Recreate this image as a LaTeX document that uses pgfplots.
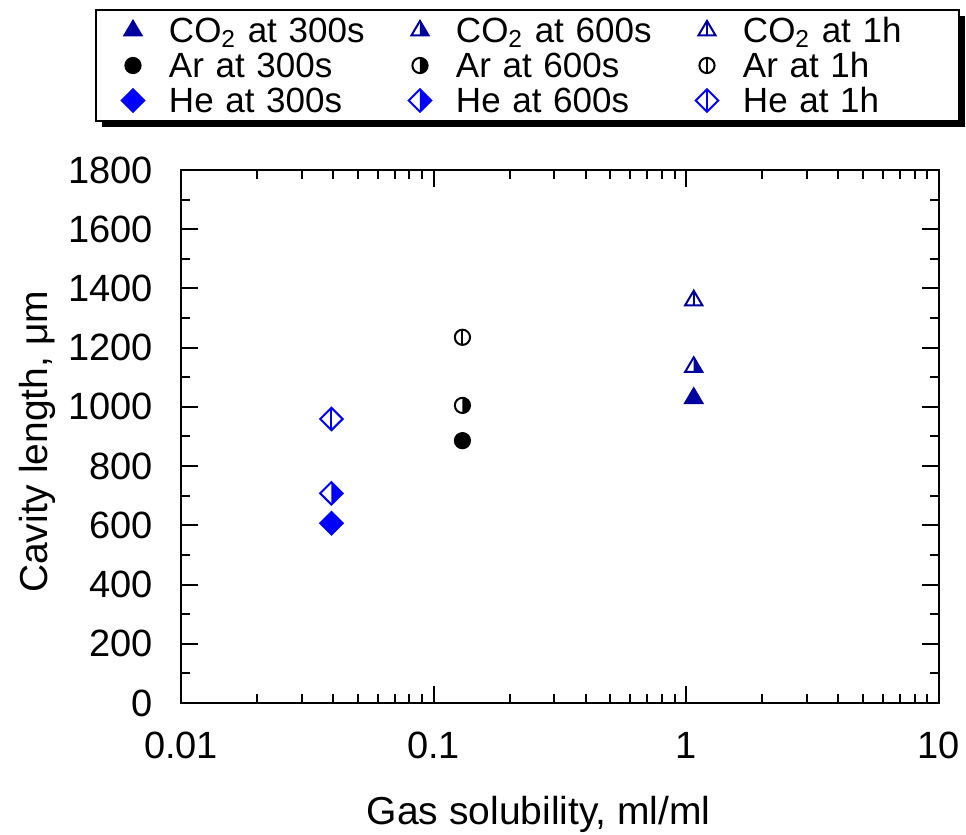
\documentclass[border=0pt]{standalone}
\usepackage{fontspec}
\setmainfont{Liberation Sans}
\usepackage{pgfplots}
\pgfplotsset{compat=1.18}
\usetikzlibrary{shadows}

\definecolor{cotwo}{RGB}{0,0,160}
\definecolor{heblue}{RGB}{0,0,255}

% --- marks: full, right-half filled, and open with a vertical split ---
\newcommand\tripath{\pgfpathmoveto{\pgfqpoint{0pt}{4.8pt}}\pgfpathlineto{\pgfqpoint{-4.3pt}{-2.5pt}}\pgfpathlineto{\pgfqpoint{4.3pt}{-2.5pt}}\pgfpathclose}
\pgfdeclareplotmark{trifull}{\tripath\pgfusepathqfillstroke}
\pgfdeclareplotmark{trihalf}{%
  \pgfpathmoveto{\pgfqpoint{0pt}{4.8pt}}\pgfpathlineto{\pgfqpoint{4.3pt}{-2.5pt}}\pgfpathlineto{\pgfqpoint{0pt}{-2.5pt}}\pgfpathclose\pgfusepathqfill
  \tripath\pgfusepathqstroke}
\pgfdeclareplotmark{trisplit}{%
  \tripath\pgfusepathqstroke
  \pgfpathmoveto{\pgfqpoint{0pt}{4.8pt}}\pgfpathlineto{\pgfqpoint{0pt}{-2.5pt}}\pgfusepathqstroke}

\newcommand\cirpath{\pgfpathcircle{\pgfpointorigin}{3.8pt}}
\pgfdeclareplotmark{cirfull}{\cirpath\pgfusepathqfillstroke}
\pgfdeclareplotmark{cirhalf}{%
  \pgfpathmoveto{\pgfqpoint{0pt}{3.8pt}}\pgfpatharc{90}{-90}{3.8pt}\pgfpathclose\pgfusepathqfill
  \cirpath\pgfusepathqstroke}
\pgfdeclareplotmark{cirsplit}{%
  \cirpath\pgfusepathqstroke
  \pgfpathmoveto{\pgfqpoint{0pt}{3.8pt}}\pgfpathlineto{\pgfqpoint{0pt}{-3.8pt}}\pgfusepathqstroke}

\newcommand\diapath{\pgfpathmoveto{\pgfqpoint{0pt}{5.6pt}}\pgfpathlineto{\pgfqpoint{5.6pt}{0pt}}\pgfpathlineto{\pgfqpoint{0pt}{-5.6pt}}\pgfpathlineto{\pgfqpoint{-5.6pt}{0pt}}\pgfpathclose}
\pgfdeclareplotmark{diafull}{\diapath\pgfusepathqfillstroke}
\pgfdeclareplotmark{diahalf}{%
  \pgfpathmoveto{\pgfqpoint{0pt}{5.6pt}}\pgfpathlineto{\pgfqpoint{5.6pt}{0pt}}\pgfpathlineto{\pgfqpoint{0pt}{-5.6pt}}\pgfpathclose\pgfusepathqfill
  \diapath\pgfusepathqstroke}
\pgfdeclareplotmark{diasplit}{%
  \diapath\pgfusepathqstroke
  \pgfpathmoveto{\pgfqpoint{0pt}{5.6pt}}\pgfpathlineto{\pgfqpoint{0pt}{-5.6pt}}\pgfusepathqstroke}

\begin{document}
\begin{tikzpicture}
\path[use as bounding box] (-90.5pt,-66pt) rectangle (392.5pt,351.5pt);
\begin{axis}[
  at={(0pt,0pt)}, anchor=south west,
  scale only axis, width=379pt, height=266.5pt,
  xmode=log, xmin=0.01, xmax=10,
  ymin=0, ymax=1800,
  xtick={0.01,0.1,1,10}, xticklabels={0.01,0.1,1,10},
  ytick={0,200,...,1800}, minor y tick num=1,
  tick align=inside,
  major tick length=8.5pt, minor tick length=4.5pt,
  every tick/.style={black, line width=1pt},
  axis line style={line width=1pt},
  /pgf/number format/assume math mode=true,
  /pgf/number format/1000 sep={},
  tick label style={font=\fontsize{19}{22}\selectfont},
  yticklabel style={anchor=east, inner sep=0pt, xshift=-14pt},
  xticklabel style={anchor=north, inner sep=0pt, yshift=-14.5pt},
  xlabel={Gas solubility, ml/ml},
  ylabel={Cavity length, μm},
  label style={font=\fontsize{19.5}{22}\selectfont},
  xlabel style={at={([yshift=-61pt]axis description cs:0.472,0)}, anchor=base},
  ylabel style={at={([xshift=-66.5pt]axis description cs:0,0.49)}, anchor=base},
  legend columns=3,
  legend cell align=left,
  legend image code/.code={\draw[#1] plot coordinates {(0pt,0pt)}; \path (-10pt,0pt) (10pt,0pt);},
  legend style={
    at={([xshift=-43pt,yshift=24pt]axis description cs:0,1)}, anchor=south west,
    draw=black, line width=1pt, fill=white,
    inner xsep=8pt, inner ysep=1.5pt, column sep=7.5pt,
    /tikz/every even column/.append style={column sep=15pt},
    font=\fontsize{17.5}{18}\selectfont,
    nodes={inner xsep=0pt, inner ysep=0.75pt, text height=14pt, text depth=2pt, text width=100pt, align=left},
    drop shadow={shadow xshift=3pt, shadow yshift=-3pt, fill=black, opacity=1},
  },
]
% CO2
\addplot[only marks, mark=trifull, mark options={draw=cotwo, fill=cotwo, line width=1pt}] coordinates {(1.07,1030)};
\addlegendentry{CO\textsubscript{2} at 300s}
\addplot[only marks, mark=trihalf, mark options={draw=cotwo, fill=cotwo, line width=1pt}] coordinates {(1.07,1135)};
\addlegendentry{CO\textsubscript{2} at 600s}
\addplot[only marks, mark=trisplit, mark options={draw=cotwo, fill=cotwo, line width=1pt}] coordinates {(1.07,1360)};
\addlegendentry{CO\textsubscript{2} at 1h}
% Ar
\addplot[only marks, mark=cirfull, mark options={draw=black, fill=black, line width=1pt}] coordinates {(0.13,886)};
\addlegendentry{Ar at 300s}
\addplot[only marks, mark=cirhalf, mark options={draw=black, fill=black, line width=1pt}] coordinates {(0.13,1005)};
\addlegendentry{Ar at 600s}
\addplot[only marks, mark=cirsplit, mark options={draw=black, fill=black, line width=1pt}] coordinates {(0.13,1235)};
\addlegendentry{Ar at 1h}
% He
\addplot[only marks, mark=diafull, mark options={draw=heblue, fill=heblue, line width=1pt}] coordinates {(0.0394,607)};
\addlegendentry{He at 300s}
\addplot[only marks, mark=diahalf, mark options={draw=heblue, fill=heblue, line width=1pt}] coordinates {(0.0394,708)};
\addlegendentry{He at 600s}
\addplot[only marks, mark=diasplit, mark options={draw=heblue, fill=heblue, line width=1pt}] coordinates {(0.0394,959)};
\addlegendentry{He at 1h}
\end{axis}
\end{tikzpicture}
\end{document}
